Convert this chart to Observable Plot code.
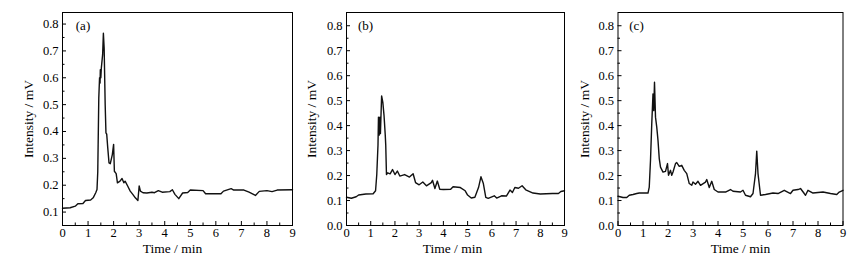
<!DOCTYPE html>
<html><head><meta charset="utf-8">
<script src="https://cdn.jsdelivr.net/npm/d3@7"></script>
<script src="https://cdn.jsdelivr.net/npm/@observablehq/plot@0.6"></script>
<style>
body{margin:0;background:#fff}
#chart{position:relative;width:862px;height:261px;overflow:hidden}
#chart svg{position:absolute;top:0}
</style>
</head><body><div id="chart"></div>
<script>
// Panel (a)
const timeA = [0,0.3,0.5,0.6,0.8,0.9,1.1,1.2,1.3,1.35,1.38,1.42,1.45,1.47,1.48,1.5,1.52,1.57,1.6,1.63,1.67,1.7,1.73,1.77,1.82,1.87,1.95,2.0,2.03,2.1,2.15,2.25,2.33,2.4,2.45,2.55,2.65,2.75,2.85,2.95,3.0,3.05,3.15,3.3,3.5,3.6,3.75,3.9,4.2,4.3,4.4,4.55,4.7,4.9,5.0,5.5,5.6,6.2,6.3,6.6,6.7,7.1,7.3,7.55,7.7,8.0,8.2,8.4,9.0];
const intensityA = [0.114,0.116,0.122,0.131,0.132,0.143,0.145,0.153,0.172,0.184,0.25,0.525,0.6,0.58,0.63,0.6,0.637,0.686,0.766,0.71,0.5,0.395,0.39,0.34,0.283,0.28,0.314,0.352,0.252,0.243,0.209,0.215,0.225,0.209,0.215,0.197,0.178,0.166,0.153,0.143,0.197,0.178,0.172,0.171,0.174,0.172,0.18,0.174,0.176,0.183,0.166,0.15,0.171,0.173,0.182,0.18,0.168,0.168,0.178,0.187,0.182,0.182,0.174,0.162,0.177,0.18,0.176,0.182,0.183];
// Panel (b)
const timeB = [0,0.2,0.4,0.5,0.8,1.1,1.2,1.25,1.3,1.32,1.35,1.38,1.4,1.45,1.5,1.55,1.6,1.62,1.65,1.7,1.8,1.9,2.0,2.1,2.2,2.4,2.6,2.75,2.85,3.0,3.15,3.3,3.5,3.55,3.65,3.75,3.85,4.0,4.3,4.4,4.7,4.9,5.0,5.15,5.3,5.45,5.55,5.65,5.75,5.85,6.0,6.1,6.2,6.4,6.6,6.75,6.85,6.95,7.1,7.25,7.4,7.7,8.0,8.5,8.75,8.85,9.0];
const intensityB = [0.113,0.109,0.115,0.122,0.126,0.127,0.139,0.204,0.322,0.434,0.362,0.434,0.368,0.519,0.493,0.44,0.362,0.322,0.204,0.211,0.207,0.224,0.204,0.218,0.198,0.204,0.194,0.207,0.172,0.163,0.174,0.159,0.172,0.181,0.148,0.178,0.145,0.144,0.145,0.155,0.152,0.139,0.122,0.11,0.113,0.152,0.195,0.168,0.113,0.109,0.115,0.119,0.11,0.119,0.118,0.142,0.132,0.152,0.149,0.159,0.143,0.13,0.126,0.128,0.128,0.136,0.139];
// Panel (c)
const timeC = [0,0.2,0.35,0.45,0.6,0.75,0.85,1.2,1.25,1.3,1.35,1.4,1.43,1.46,1.5,1.55,1.6,1.65,1.7,1.8,1.9,1.98,2.02,2.1,2.15,2.2,2.3,2.35,2.45,2.55,2.65,2.75,2.85,2.95,3.0,3.1,3.2,3.3,3.5,3.55,3.65,3.75,3.85,4.0,4.3,4.5,4.6,4.9,5.0,5.1,5.3,5.4,5.5,5.55,5.6,5.7,5.9,6.2,6.4,6.65,6.9,7.0,7.2,7.3,7.45,7.5,7.6,7.8,8.2,8.5,8.75,8.85,9.0];
const intensityC = [0.117,0.112,0.112,0.121,0.124,0.128,0.13,0.13,0.154,0.261,0.407,0.527,0.46,0.574,0.434,0.394,0.341,0.268,0.234,0.214,0.217,0.248,0.201,0.221,0.201,0.214,0.248,0.252,0.237,0.241,0.221,0.208,0.168,0.161,0.174,0.165,0.177,0.161,0.174,0.184,0.152,0.177,0.144,0.134,0.134,0.144,0.137,0.134,0.141,0.121,0.115,0.128,0.208,0.298,0.208,0.121,0.124,0.13,0.128,0.141,0.128,0.141,0.144,0.148,0.128,0.121,0.141,0.13,0.134,0.128,0.124,0.134,0.141];

const xTicks = [0,1,2,3,4,5,6,7,8,9];
const xMinor = [0.5,1.5,2.5,3.5,4.5,5.5,6.5,7.5,8.5];
const yTicksA = [0.1,0.2,0.3,0.4,0.5,0.6,0.7,0.8];
const yMinorA = [0.15,0.25,0.35,0.45,0.55,0.65,0.75];
const yTicksBC = [0.0,0.1,0.2,0.3,0.4,0.5,0.6,0.7,0.8];
const yMinorBC = [0.05,0.15,0.25,0.35,0.45,0.55,0.65,0.75];
const panelLabels = ["(a)","(b)","(c)"];
const xTitle = "Time / min";
const yTitle = "Intensity / mV";

const FONT = "'Liberation Serif', 'Times New Roman', serif";

function panel({left, width, mL, mR, time, vals, yDomain, yTicks, yMinor, tag, tagDx, xTitleDx, yTitleDx}) {
  const p = Plot.plot({
    width, height: 261,
    marginLeft: mL, marginRight: mR, marginTop: 12, marginBottom: 36,
    x: {domain: [0, 9]},
    y: {domain: yDomain},
    style: {fontFamily: FONT, fontSize: "12.5px", color: "#000", background: "transparent", overflow: "visible"},
    marks: [
      Plot.line(time, {x: time, y: vals, stroke: "#111", strokeWidth: 1.4, curve: "linear"}),
      Plot.frame({stroke: "#000", strokeWidth: 1}),
      Plot.axisX(xTicks, {tickSize: 0, tickPadding: 3, label: null, tickFormat: d => String(d)}),
      Plot.axisX(xTicks, {tickSize: 4, dy: -4, label: null, tickFormat: () => ""}),
      Plot.axisX(xMinor, {tickSize: 2.5, dy: -2.5, label: null, tickFormat: () => ""}),
      Plot.axisY(yTicks, {tickSize: 0, tickPadding: 4, label: null, tickFormat: d => d.toFixed(1)}),
      Plot.axisY(yTicks, {tickSize: 4, dx: 4, label: null, tickFormat: () => ""}),
      Plot.axisY(yMinor, {tickSize: 2.5, dx: 2.5, label: null, tickFormat: () => ""}),
      Plot.text([tag], {frameAnchor: "top-left", textAnchor: "middle", lineAnchor: "middle", dx: tagDx, dy: 13.5, fontSize: 13, fill: "#000"}),
      Plot.text([xTitle], {frameAnchor: "bottom", textAnchor: "middle", lineAnchor: "middle", dx: xTitleDx, dy: 23.5, fontSize: 13.5, fill: "#000"}),
      Plot.text([yTitle], {frameAnchor: "left", textAnchor: "middle", lineAnchor: "middle", rotate: -90, dx: yTitleDx, fontSize: 13.5, fill: "#000"})
    ]
  });
  p.style.left = left + "px";
  document.getElementById("chart").appendChild(p);
}

panel({left: 0, width: 300, mL: 62, mR: 8, time: timeA, vals: intensityA, yDomain: [0.05, 0.843], yTicks: yTicksA, yMinor: yMinorA, tag: panelLabels[0], tagDx: 20.5, xTitleDx: -5, yTitleDx: -34});
panel({left: 290, width: 280, mL: 56, mR: 6, time: timeB, vals: intensityB, yDomain: [0, 0.853], yTicks: yTicksBC, yMinor: yMinorBC, tag: panelLabels[1], tagDx: 19, xTitleDx: -3, yTitleDx: -35});
panel({left: 570, width: 292, mL: 47.5, mR: 19.5, time: timeC, vals: intensityC, yDomain: [0, 0.853], yTicks: yTicksBC, yMinor: yMinorBC, tag: panelLabels[2], tagDx: 18.5, xTitleDx: 10, yTitleDx: -33.5});
</script>
</body></html>
